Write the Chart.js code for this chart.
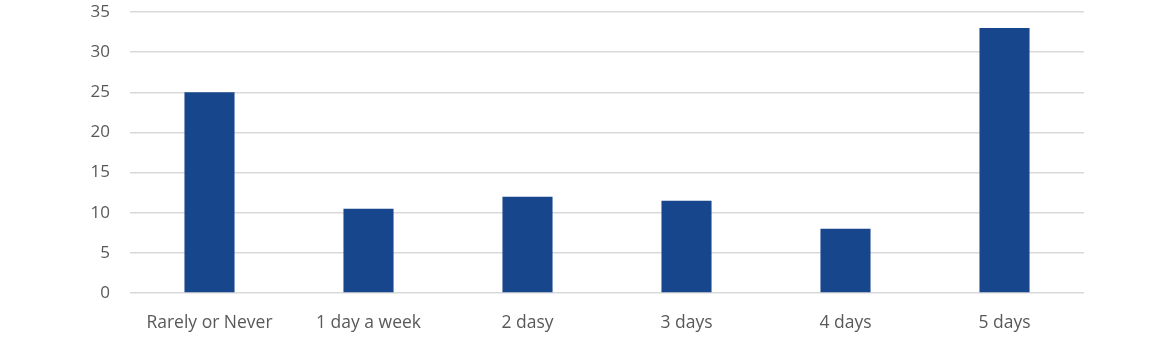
<!DOCTYPE html>
<html>
<head>
<meta charset="utf-8">
<script src="https://cdn.jsdelivr.net/npm/chart.js@4/dist/chart.umd.min.js"></script>
<style>
  html, body { margin: 0; padding: 0; background: #ffffff; }
  #wrap { width: 1159px; height: 355px; }
</style>
</head>
<body>
<div id="wrap"><canvas id="chart" width="1159" height="355"></canvas></div>
<script>
// Days per week respondents spend in the office
const categories = ["Rarely or Never", "1 day a week", "2 dasy", "3 days", "4 days", "5 days"];
const responses = [25, 10.5, 12, 11.5, 8, 33];
const yTicks = [0, 5, 10, 15, 20, 25, 30, 35];

const textColor = "#595959";
const fontFamily = "'Open Sans', 'Noto Sans', sans-serif";

new Chart(document.getElementById("chart"), {
  type: "bar",
  data: {
    labels: categories,
    datasets: [{
      data: responses,
      backgroundColor: "#18468c",
      borderWidth: 0,
      categoryPercentage: 1,
      barPercentage: 0.315
    }]
  },
  options: {
    responsive: false,
    animation: false,
    layout: { padding: { top: 12, right: 75, bottom: 0, left: 0 } },
    plugins: { legend: { display: false }, tooltip: { enabled: false } },
    scales: {
      x: {
        grid: { display: false },
        border: { display: false },
        ticks: { color: textColor, font: { family: fontFamily, size: 17.5 }, padding: 12, maxRotation: 0 },
        afterFit: (axis) => { axis.height = 62; axis.paddingLeft = 0; axis.paddingRight = 0; }
      },
      y: {
        min: 0,
        max: 35,
        afterBuildTicks: (axis) => { axis.ticks = yTicks.map(v => ({ value: v })); },
        grid: { color: "#d9d9d9", lineWidth: 1.5, drawTicks: false },
        border: { display: false },
        ticks: { color: textColor, font: { family: fontFamily, size: 17 }, padding: 20 },
        afterFit: (axis) => { axis.width = 130; axis.paddingTop = 0; axis.paddingBottom = 0; }
      }
    }
  }
});
</script>
</body>
</html>
